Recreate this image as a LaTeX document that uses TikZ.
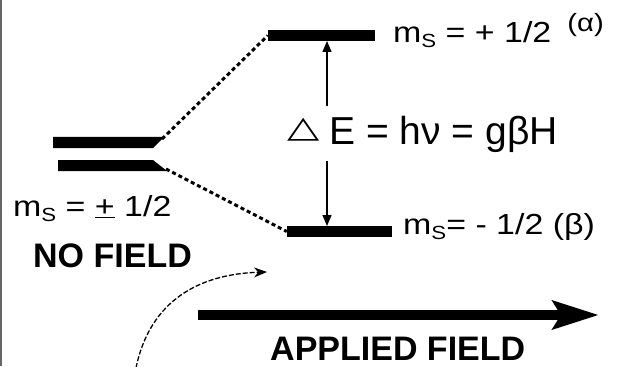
\documentclass[tikz,border=0pt]{standalone}
\usepackage{fontspec}
\setmainfont{Liberation Sans}
\newfontfamily\widefont[FakeStretch=1.17]{Liberation Sans}
\newfontfamily\symfont{DejaVu Sans}
\usetikzlibrary{arrows.meta}
\newcommand{\msub}{m\raisebox{-5pt}{\fontsize{19}{19}\selectfont S}}
\tikzset{
  lbl/.style={inner sep=0pt, anchor=base west, font=\widefont\fontsize{29}{34}\selectfont},
  bold lbl/.style={inner sep=0pt, anchor=base west, font=\fontsize{34}{36}\selectfont\bfseries},
  level/.style={fill=black, inner sep=0pt, minimum height=11pt, draw=none},
  split/.style={line width=3pt, dash pattern=on 4pt off 3pt},
  gap/.style={line width=1.3pt, -{Triangle[length=11pt,width=9pt]}},
  field/.style={line width=10pt, -{Stealth[length=46pt,width=28pt,inset=8pt]}},
  curl/.style={line width=1.3pt, dash pattern=on 5pt off 2pt, -{Stealth[length=13pt,width=10pt]}}
}
\begin{document}
\begin{tikzpicture}[x=1pt,y=-1pt]
\useasboundingbox (0,0) rectangle (617,366);
\fill[white] (0,0) rectangle (617,366);
\draw[gray!80!black, line width=2pt] (1,0) -- (1,366);
% no-field levels
\fill (53,137) -- (164,137) -- (153,148) -- (53,148) -- cycle;
\fill (58,160) -- (153,160) -- (167,171) -- (58,171) -- cycle;
\coordinate (nfu) at (162,139);
\coordinate (nfl) at (166,169);
% field levels
\node[level, minimum width=107pt] (alpha) at (321.5,35.5) {};
\node[level, minimum width=105pt] (beta) at (339.5,231.5) {};
% splitting lines
\draw[split] (nfu) -- (alpha.west);
\draw[split] (nfl) -- (beta.west);
% energy gap
\node[inner sep=0pt, anchor=base west] (de) at (287,144)
  {\raisebox{6pt}{\scalebox{1.4}[1]{\symfont\fontsize{30}{30}\selectfont △}}\hspace{10pt}{\fontsize{39}{40}\selectfont E = hν = gβH}};
\coordinate (gt) at (327,106);
\coordinate (gb) at (327,161);
\draw[gap] (gt) -- (327,41);
\draw[gap] (gb) -- (327,226);
% labels
\node[lbl] (la) at (393,43) {\msub{} = + 1/2\hspace{16pt}\raisebox{11pt}{\fontsize{25}{25}\selectfont(α)}};
\node[lbl] (lb) at (403,234) {\msub{}= - 1/2 (β)};
\node[lbl] (lnf) at (13,216) {\msub{} = \underline{+} 1/2};
\node[bold lbl] (nofield) at (33,267) {NO FIELD};
% applied field
\coordinate (fs) at (198,315);
\coordinate (fe) at (599,315);
\draw[field] (fs) -- (fe);
\node[bold lbl] (applied) at (270,360) {APPLIED FIELD};
\coordinate (cs) at (136,368);
\coordinate (ce) at (267,272);
\draw[curl] (cs) .. controls (150,300) and (200,274) .. (ce);
\end{tikzpicture}
\end{document}
